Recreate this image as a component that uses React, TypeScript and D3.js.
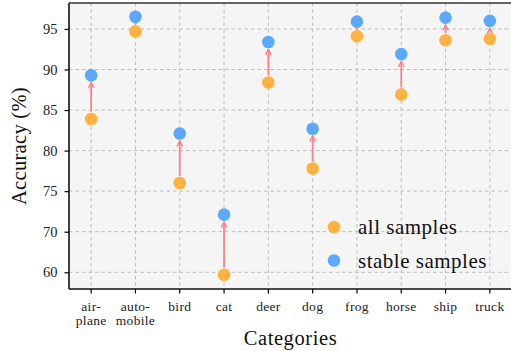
import React, { useRef, useEffect } from 'react';
import * as d3 from 'd3';

const categories = ['air-\nplane', 'auto-\nmobile', 'bird', 'cat', 'deer', 'dog', 'frog', 'horse', 'ship', 'truck'];
const allSamples = [83.9, 94.7, 76.0, 59.4, 88.4, 77.8, 94.1, 86.9, 93.6, 93.8];
const stableSamples = [89.3, 96.5, 82.1, 72.1, 93.4, 82.7, 95.9, 91.9, 96.4, 96.0];
const yTicks = [60, 70, 75, 80, 85, 90, 95];

const ORANGE = '#ffb142';
const BLUE = '#5aa9fa';
const ARROW = '#ff8088';
const FONT = '"Liberation Serif", "Times New Roman", serif';

export default function App() {
	const svgWidth = 511;
	const svgHeight = 351;
	const ref = useRef<SVGSVGElement>(null);

	useEffect(() => {
		if (!ref.current) return;
		const margin = { top: 3, right: -1, bottom: 62, left: 69 };
		const width = svgWidth - margin.left - margin.right;
		const height = svgHeight - margin.top - margin.bottom;

		const root = d3.select(ref.current);
		root.selectAll('*').remove();

		const defs = root.append('defs');
		defs.append('marker')
			.attr('id', 'arrowhead')
			.attr('viewBox', '0 0 10 10')
			.attr('refX', 9)
			.attr('refY', 5)
			.attr('markerWidth', 7)
			.attr('markerHeight', 7)
			.attr('markerUnits', 'userSpaceOnUse')
			.attr('orient', 'auto')
			.append('path')
			.attr('d', 'M1,1 L9,5 L1,9')
			.attr('fill', 'none')
			.attr('stroke', ARROW)
			.attr('stroke-width', 2);

		const svg = root.append('g').attr('transform', `translate(${margin.left},${margin.top})`);

		const xScale = d3.scaleBand().domain(categories).range([0, width]).padding(0);
		const cx = (c: string) => (xScale(c) as number) + xScale.bandwidth() / 2;

		// 60..70 is squeezed to one 5-unit step, like the original
		const yScale = d3.scaleLinear().domain([60, 70, 98.2]).range([269.3, 228.7, 0]);

		svg.append('rect').attr('width', width).attr('height', height).attr('fill', '#f5f5f5');

		// grid
		svg.append('g')
			.selectAll('line')
			.data(yTicks)
			.join('line')
			.attr('x1', 0)
			.attr('x2', width)
			.attr('y1', (d) => yScale(d))
			.attr('y2', (d) => yScale(d))
			.attr('stroke', '#bdbdbd')
			.attr('stroke-dasharray', '3.5,3')
			.attr('stroke-width', 1);
		svg.append('g')
			.selectAll('line')
			.data(categories)
			.join('line')
			.attr('x1', (d) => cx(d))
			.attr('x2', (d) => cx(d))
			.attr('y1', 0)
			.attr('y2', height)
			.attr('stroke', '#bdbdbd')
			.attr('stroke-dasharray', '3.5,3')
			.attr('stroke-width', 1);

		// arrows
		const r = 6.3;
		svg.append('g')
			.selectAll('line')
			.data(categories)
			.join('line')
			.attr('x1', (d) => cx(d))
			.attr('x2', (d) => cx(d))
			.attr('y1', (d, i) => yScale(allSamples[i]) - r - 1)
			.attr('y2', (d, i) => yScale(stableSamples[i]) + r + 1)
			.attr('stroke', ARROW)
			.attr('stroke-width', 1.8)
			.attr('marker-end', 'url(#arrowhead)');

		svg.append('g')
			.selectAll('circle')
			.data(categories)
			.join('circle')
			.attr('cx', (d) => cx(d))
			.attr('cy', (d, i) => yScale(stableSamples[i]))
			.attr('r', r)
			.attr('fill', BLUE);
		svg.append('g')
			.selectAll('circle')
			.data(categories)
			.join('circle')
			.attr('cx', (d) => cx(d))
			.attr('cy', (d, i) => yScale(allSamples[i]))
			.attr('r', r)
			.attr('fill', ORANGE);

		// axes
		const yAxis = d3.axisLeft(yScale).tickValues(yTicks).tickSize(4.5).tickPadding(7);
		const gy = svg.append('g').call(yAxis);
		gy.select('.domain').remove();
		gy.selectAll('line').attr('stroke', '#000').attr('stroke-width', 1.2);
		gy.selectAll('text').attr('font-family', FONT).attr('font-size', 14.5).attr('fill', '#222');

		const xAxis = d3.axisBottom(xScale).tickSize(4.5).tickFormat(() => '');
		const gx = svg.append('g').attr('transform', `translate(0,${height})`).call(xAxis);
		gx.select('.domain').remove();
		gx.selectAll('line').attr('stroke', '#000').attr('stroke-width', 1.2);
		gx.selectAll('.tick')
			.append('text')
			.attr('font-family', FONT)
			.attr('font-size', 13.5)
			.attr('fill', '#222')
			.attr('text-anchor', 'middle')
			.attr('letter-spacing', 0.3)
			.selectAll('tspan')
			.data((d) => (d as string).split('\n'))
			.join('tspan')
			.attr('x', 0)
			.attr('y', (d, i) => 22 + i * 14)
			.text((d) => d);

		// frame
		svg.append('line').attr('x1', 0).attr('x2', 0).attr('y1', 0).attr('y2', height).attr('stroke', '#111').attr('stroke-width', 1.6);
		svg.append('line').attr('x1', 0).attr('x2', width).attr('y1', height).attr('y2', height).attr('stroke', '#111').attr('stroke-width', 1.6);
		svg.append('line').attr('x1', 0).attr('x2', width).attr('y1', 0).attr('y2', 0).attr('stroke', '#333').attr('stroke-width', 1.6);

		// axis labels
		svg.append('text')
			.attr('x', width / 2)
			.attr('y', height + 56)
			.attr('text-anchor', 'middle')
			.attr('font-family', FONT)
			.attr('font-size', 20.5)
			.attr('letter-spacing', 0.6)
			.attr('fill', '#111')
			.text('Categories');
		svg.append('text')
			.attr('transform', 'rotate(-90)')
			.attr('x', -height / 2)
			.attr('y', -margin.left + 26)
			.attr('text-anchor', 'middle')
			.attr('font-family', FONT)
			.attr('font-size', 20.5)
			.attr('letter-spacing', 0.3)
			.attr('fill', '#111')
			.text('Accuracy (%)');

		// legend
		const legend = svg.append('g').attr('transform', `translate(${334 - margin.left},${227 - margin.top})`);
		const items = [
			{ label: 'all samples', color: ORANGE },
			{ label: 'stable samples', color: BLUE },
		];
		items.forEach((it, i) => {
			legend.append('circle').attr('cx', 0).attr('cy', i * 33.5).attr('r', r).attr('fill', it.color);
			legend.append('text')
				.attr('x', 24)
				.attr('y', i * 33.5 + 7)
				.attr('font-family', FONT)
				.attr('font-size', 21)
				.attr('letter-spacing', 0.5)
				.attr('fill', '#111')
				.text(it.label);
		});
	}, []);

	return (
		<svg
			width={svgWidth}
			height={svgHeight}
			ref={ref}
			style={{ position: 'absolute', left: 0, top: 0, background: '#fff' }}
		/>
	);
}
